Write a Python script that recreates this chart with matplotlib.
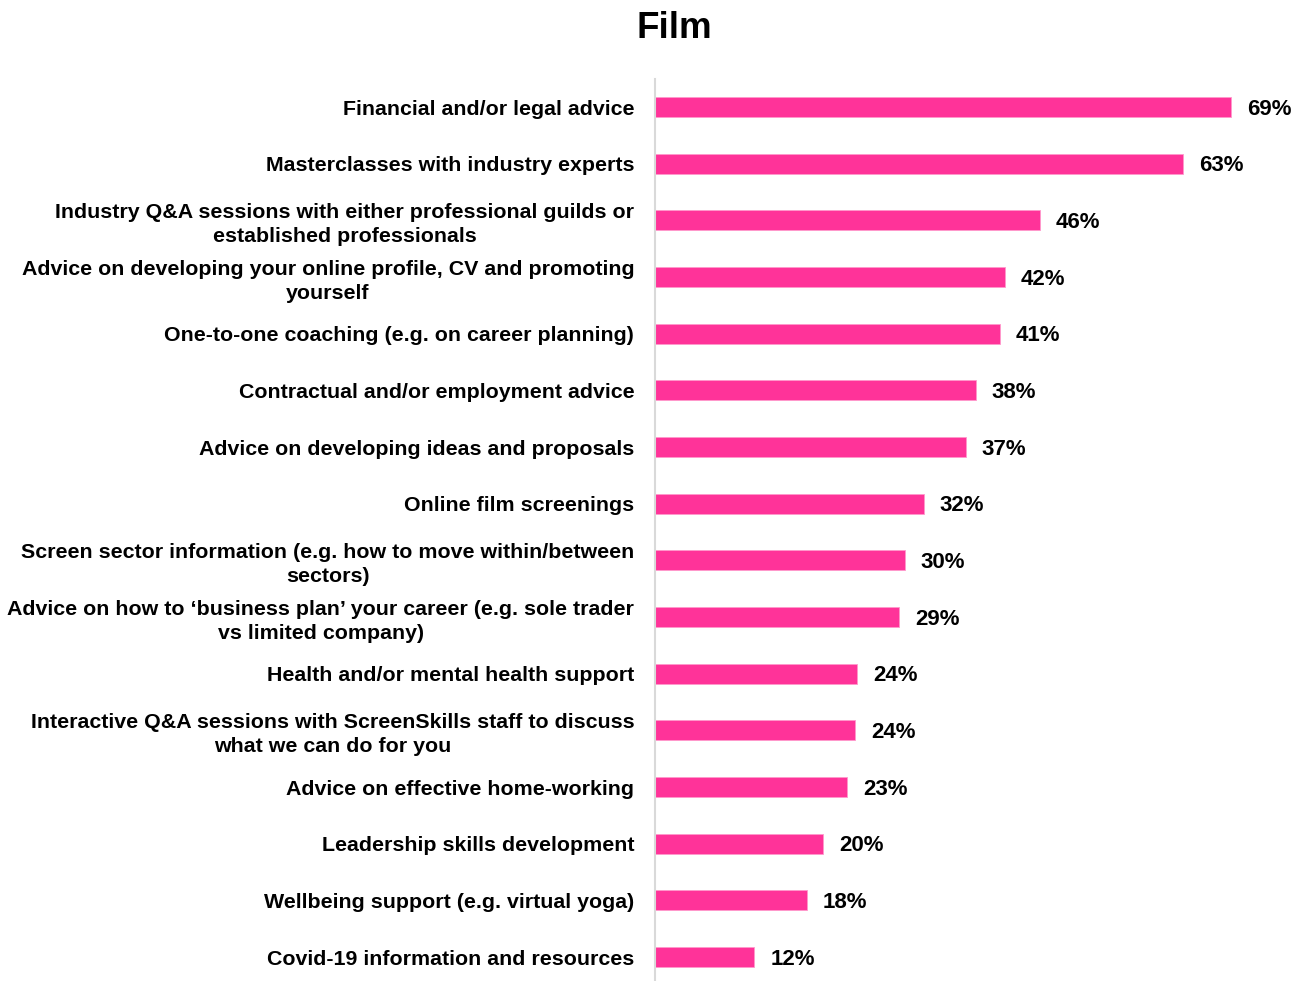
import matplotlib
matplotlib.use("Agg")
import matplotlib.pyplot as plt

categories = [
    "Financial and/or legal advice",
    "Masterclasses with industry experts",
    "Industry Q&A sessions with either professional guilds or\nestablished professionals",
    "Advice on developing your online profile, CV and promoting\nyourself",
    "One-to-one coaching (e.g. on career planning)",
    "Contractual and/or employment advice",
    "Advice on developing ideas and proposals",
    "Online film screenings",
    "Screen sector information (e.g. how to move within/between\nsectors)",
    "Advice on how to \u2018business plan\u2019 your career (e.g. sole trader\nvs limited company)",
    "Health and/or mental health support",
    "Interactive Q&A sessions with ScreenSkills staff to discuss\nwhat we can do for you",
    "Advice on effective home-working",
    "Leadership skills development",
    "Wellbeing support (e.g. virtual yoga)",
    "Covid-19 information and resources",
]
values = [69.0, 63.2, 46.1, 41.9, 41.3, 38.4, 37.2, 32.2, 29.9, 29.2, 24.2, 24.0, 23.0, 20.1, 18.2, 11.9]
title = "Film"

plt.rcParams['font.family'] = ['Liberation Sans', 'DejaVu Sans']

W, H = 1304, 981
fig = plt.figure(figsize=(W / 100, H / 100), dpi=100)
ax_left = 655 / W
ax_width = (W - 655) / W
top_px = 78.7
height_px = 906.7
ax = fig.add_axes([ax_left, 1 - (top_px + height_px) / H, ax_width, height_px / H])

ypos = list(range(len(categories)))
ax.barh(ypos, values, height=0.35, color="#FF3399", edgecolor="#FF99CC", linewidth=0.6)
ax.set_ylim(len(categories) - 0.5, -0.5)
ax.set_xlim(0, 649 / 8.35)

for y, v in zip(ypos, values):
    ax.annotate(f"{v:.0f}%", xy=(v, y), xytext=(11.5, -1.5), textcoords="offset points",
                va="center", ha="left", fontsize=16, fontweight="bold", color="black")

ax.set_yticks(ypos)
ax.set_yticklabels(categories, fontsize=15.4, fontweight="bold", multialignment="center",
                   linespacing=1.32)
ax.tick_params(axis="y", length=0, pad=15)
ax.set_xticks([])
for s in ["top", "right", "bottom"]:
    ax.spines[s].set_visible(False)
ax.spines["left"].set_color("#D9D9D9")
ax.spines["left"].set_linewidth(1.5)

fig.text(674 / W, 1 - 28 / H, title, ha="center", va="center", fontsize=26.5, fontweight="bold")

fig.savefig("out.png", dpi=100)
